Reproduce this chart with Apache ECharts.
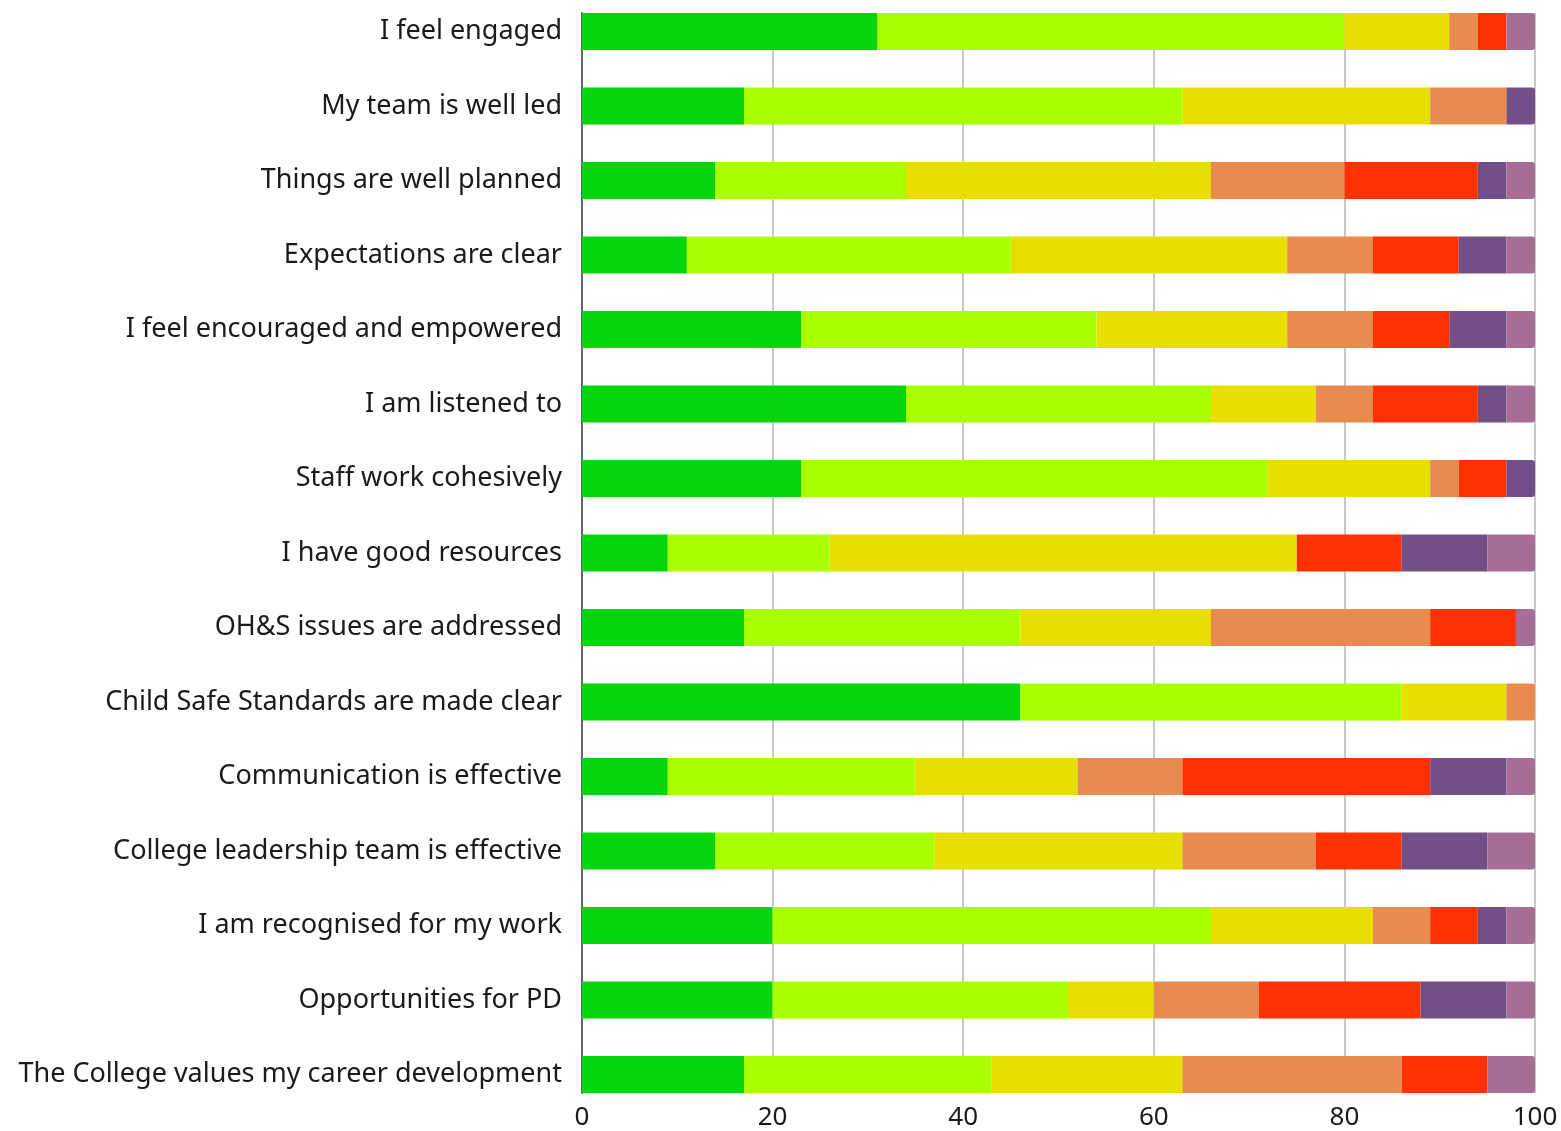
<!DOCTYPE html>
<html>
<head>
<meta charset="utf-8">
<script src="https://cdn.jsdelivr.net/npm/echarts@6/dist/echarts.min.js"></script>
<style>
html,body{margin:0;padding:0;background:#fff;}
#main{width:1561px;height:1131px;}
</style>
</head>
<body>
<div id="main"></div>
<script>
const categories = [
  "I feel engaged",
  "My team is well led",
  "Things are well planned",
  "Expectations are clear",
  "I feel encouraged and empowered",
  "I am listened to",
  "Staff work cohesively",
  "I have good resources",
  "OH&S issues are addressed",
  "Child Safe Standards are made clear",
  "Communication is effective",
  "College leadership team is effective",
  "I am recognised for my work",
  "Opportunities for PD",
  "The College values my career development"
];
const xTicks = [0, 20, 40, 60, 80, 100];
const seriesNames = ["s1", "s2", "s3", "s4", "s5", "s6", "s7"];
const seriesColors = ["#05d60c", "#aaff00", "#e6df00", "#e88b4e", "#fc3300", "#734f87", "#a66d97"];

const s1 = [31, 17, 14, 11, 23, 34, 23, 9, 17, 46, 9, 14, 20, 20, 17];
const s2 = [49, 46, 20, 34, 31, 32, 49, 17, 29, 40, 26, 23, 46, 31, 26];
const s3 = [11, 26, 32, 29, 20, 11, 17, 49, 20, 11, 17, 26, 17, 9, 20];
const s4 = [3, 8, 14, 9, 9, 6, 3, 0, 23, 3, 11, 14, 6, 11, 23];
const s5 = [3, 0, 14, 9, 8, 11, 5, 11, 9, 0, 26, 9, 5, 17, 9];
const s6 = [0, 3, 3, 5, 6, 3, 3, 9, 0, 0, 8, 9, 3, 9, 0];
const s7 = [3, 0, 3, 3, 3, 3, 0, 5, 2, 0, 3, 5, 3, 3, 5];
const allSeries = [s1, s2, s3, s4, s5, s6, s7];

// last non-zero segment per row gets a rounded end
const lastIdx = categories.map((c, r) => {
  let li = 0;
  allSeries.forEach((s, k) => { if (s[r] > 0) li = k; });
  return li;
});

const series = allSeries.map((arr, k) => ({
  name: seriesNames[k],
  type: 'bar',
  stack: 'total',
  xAxisIndex: 0,
  yAxisIndex: 0,
  barWidth: 37,
  itemStyle: { color: seriesColors[k] },
  data: arr.map((v, r) => lastIdx[r] === k
    ? { value: v, itemStyle: { borderRadius: [0, 3, 3, 0] } }
    : v),
  silent: true
}));

const labelFont = "'Noto Sans', 'Open Sans', sans-serif";

const chart = echarts.init(document.getElementById('main'), null, { renderer: 'canvas' });
chart.setOption({
  animation: false,
  backgroundColor: '#ffffff',
  grid: [
    { left: 582, right: 26, top: 31.5, height: 1043, containLabel: false },
    { left: 582, right: 26, top: 13, height: 1080, containLabel: false }
  ],
  xAxis: [
    { gridIndex: 0, type: 'value', min: 0, max: 100, show: false },
    {
      gridIndex: 1, type: 'value', min: 0, max: 100, interval: 20,
      axisLine: { show: false }, axisTick: { show: false },
      splitLine: { show: true, lineStyle: { color: '#c8c8c8', width: 2 } },
      axisLabel: {
        fontSize: 26, color: '#1a1a1a', fontFamily: labelFont, margin: 12,
        formatter: (v) => xTicks.includes(v) ? String(v) : ''
      }
    }
  ],
  yAxis: [
    {
      gridIndex: 0, type: 'category', data: categories, inverse: true, boundaryGap: false,
      axisLine: { show: false }, axisTick: { show: false }, splitLine: { show: false },
      axisLabel: { fontSize: 27, color: '#1a1a1a', fontFamily: labelFont, margin: 20 }
    },
    {
      gridIndex: 1, type: 'category', data: [''],
      axisLine: { show: true, lineStyle: { color: '#666666', width: 2 } },
      axisTick: { show: false }, axisLabel: { show: false }, splitLine: { show: false }
    }
  ],
  series: series
});
</script>
</body>
</html>
